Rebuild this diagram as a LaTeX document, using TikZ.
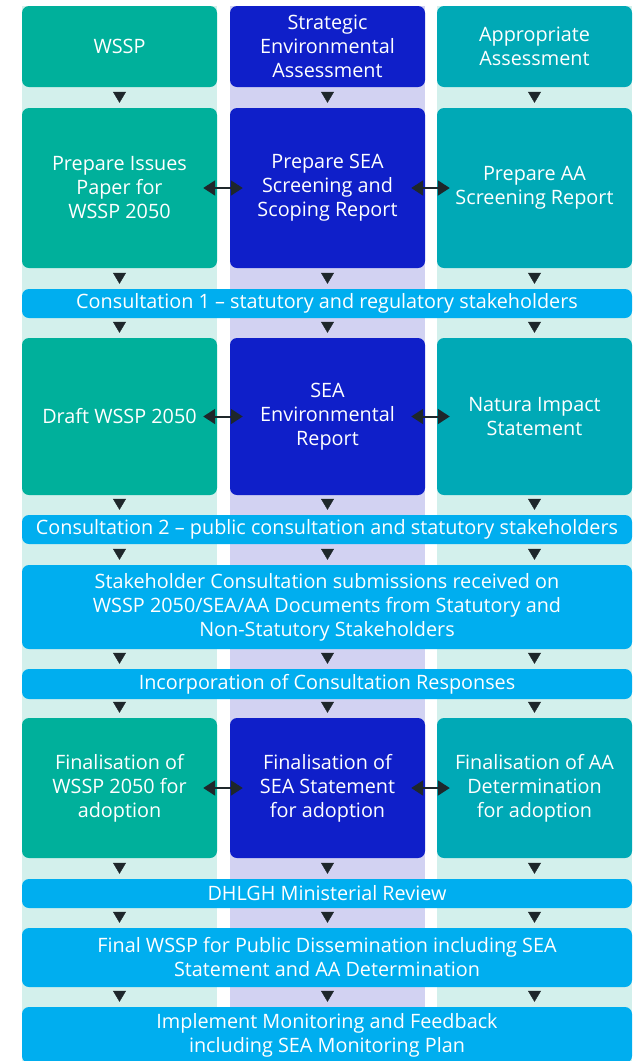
\documentclass[tikz,border=0pt]{standalone}
\usepackage{fontspec}
\setmainfont{Open Sans}
\usepackage{tikz}
\usetikzlibrary{arrows.meta}
\usepackage{xcolor}
\definecolor{wsspgreen}{HTML}{00B09B}
\definecolor{seablue}{HTML}{0F1FC9}
\definecolor{aateal}{HTML}{00A9B6}
\definecolor{barblue}{HTML}{00AEEF}
\definecolor{stripcyan}{HTML}{D3F0EC}
\definecolor{striplav}{HTML}{D2D2F2}
\definecolor{arrowc}{HTML}{1E272B}

\begin{document}
\begin{tikzpicture}[x=1pt, y=-1pt,
    box/.style={rounded corners=7pt, inner sep=0pt, text=white, align=center,
        font=\fontsize{19.8}{24}\selectfont},
    lbox/.style={box, fill=wsspgreen, minimum width=195pt},
    mbox/.style={box, fill=seablue, minimum width=195pt},
    rbox/.style={box, fill=aateal, minimum width=195pt},
    bar/.style={box, fill=barblue, minimum width=610pt},
    dnarrow/.style={draw=arrowc, line width=0.4pt,
        -{Triangle[length=11pt,width=13pt]}, shorten <=5pt, shorten >=5pt},
    biarrow/.style={draw=arrowc, line width=2pt,
        {Triangle[length=12pt,width=15pt]}-{Triangle[length=12pt,width=15pt]},
        shorten <=-14pt, shorten >=-13pt}]
    \useasboundingbox (0,0) rectangle (636,1061);
    \clip (0,0) rectangle (636,1061);

    % Column strips
    \fill[stripcyan] (22,6) rectangle (217,1070);
    \fill[striplav] (230,6) rectangle (425,1070);
    \fill[stripcyan] (437,6) rectangle (632,1070);

    % Headings
    \node[lbox, minimum height=81pt] (L0) at (119.5,46.5) {WSSP};
    \node[mbox, minimum height=81pt] (M0) at (327.5,46.5) {Strategic\\Environmental\\Assessment};
    \node[rbox, minimum height=81pt] (R0) at (534.5,46.5) {Appropriate\\Assessment};

    % Screening
    \node[lbox, minimum height=160pt] (L1) at (119.5,188) {Prepare Issues\\Paper for\\WSSP 2050};
    \node[mbox, minimum height=160pt] (M1) at (327.5,188) {Prepare SEA\\Screening and\\Scoping Report};
    \node[rbox, minimum height=160pt] (R1) at (534.5,188) {Prepare AA\\Screening Report};

    \node[bar, minimum height=29pt] (C1) at (327,303.5) {Consultation 1 -- statutory and regulatory stakeholders};

    % Drafts
    \node[lbox, minimum height=157pt] (L2) at (119.5,416.5) {Draft WSSP 2050};
    \node[mbox, minimum height=157pt] (M2) at (327.5,416.5) {SEA\\Environmental\\Report};
    \node[rbox, minimum height=157pt] (R2) at (534.5,416.5) {Natura Impact\\Statement};

    \node[bar, minimum height=29pt] (C2) at (327,529.5) {Consultation 2 -- public consultation and statutory stakeholders};
    \node[bar, minimum height=84pt] (SC) at (327,607) {Stakeholder Consultation submissions received on\\WSSP 2050/SEA/AA Documents from Statutory and\\Non-Statutory Stakeholders};
    \node[bar, minimum height=30pt] (IC) at (327,684) {Incorporation of Consultation Responses};

    % Finalisation
    \node[lbox, minimum height=140pt] (L3) at (119.5,788) {Finalisation of\\WSSP 2050 for\\adoption};
    \node[mbox, minimum height=140pt] (M3) at (327.5,788) {Finalisation of\\SEA Statement\\for adoption};
    \node[rbox, minimum height=140pt] (R3) at (534.5,788) {Finalisation of AA\\Determination\\for adoption};

    \node[bar, minimum height=29pt] (DR) at (327,893.5) {DHLGH Ministerial Review};
    \node[bar, minimum height=59pt] (FW) at (327,957.5) {Final WSSP for Public Dissemination including SEA\\Statement and AA Determination};
    \node[bar, minimum height=56pt] (IM) at (327,1035) {Implement Monitoring and Feedback\\including SEA Monitoring Plan};

    % Links between columns
    \foreach \r in {1,2,3} {
        \draw[biarrow] (L\r) -- (M\r);
        \draw[biarrow] (M\r) -- (R\r);
    }

    % Flow down each column
    \foreach \c in {L,M,R} {
        \draw[dnarrow] (\c0) -- (\c1);
        \draw[dnarrow] (\c1.south) -- (\c1.south |- C1.north);
        \draw[dnarrow] (\c2.north |- C1.south) -- (\c2.north);
        \draw[dnarrow] (\c2.south) -- (\c2.south |- C2.north);
        \draw[dnarrow] (\c2.south |- C2.south) -- (\c2.south |- SC.north);
        \draw[dnarrow] (\c2.south |- SC.south) -- (\c2.south |- IC.north);
        \draw[dnarrow] (\c3.north |- IC.south) -- (\c3.north);
        \draw[dnarrow] (\c3.south) -- (\c3.south |- DR.north);
        \draw[dnarrow] (\c3.south |- DR.south) -- (\c3.south |- FW.north);
        \draw[dnarrow] (\c3.south |- FW.south) -- (\c3.south |- IM.north);
    }
\end{tikzpicture}
\end{document}
